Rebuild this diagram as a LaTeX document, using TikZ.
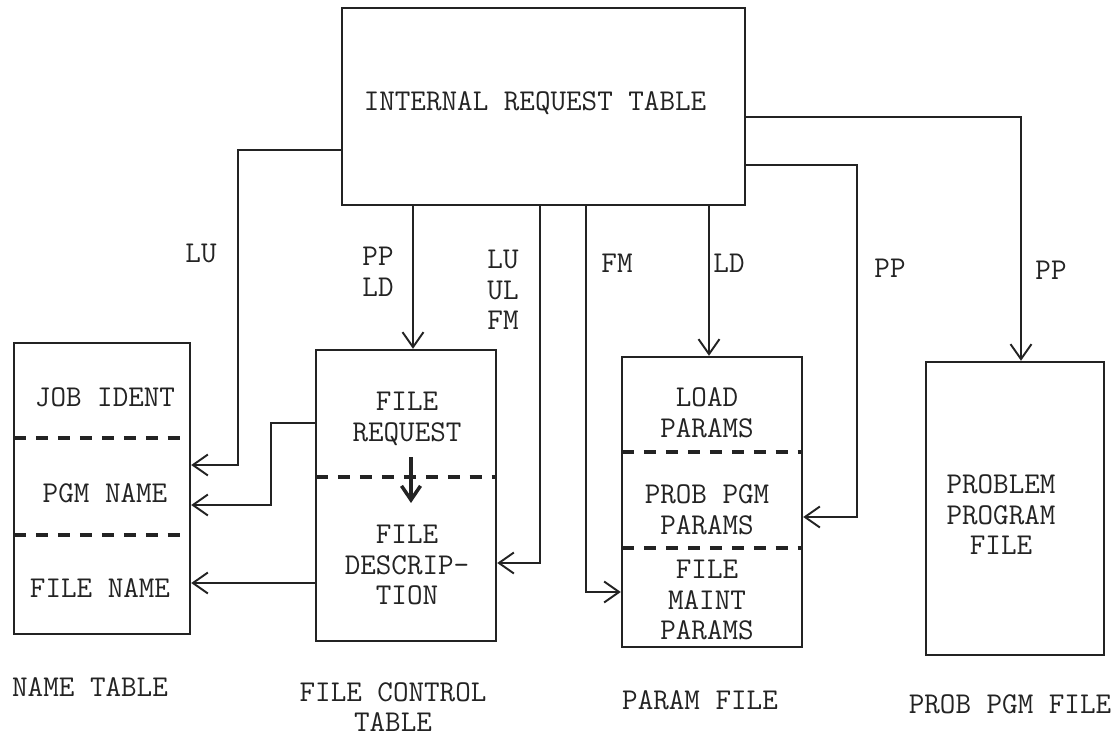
\documentclass[tikz,border=0pt]{standalone}
\usepackage{fontspec}
\definecolor{ink}{RGB}{35,35,35}
\usetikzlibrary{positioning, arrows.meta}

\begin{document}
\begin{tikzpicture}[x=0.02cm, y=-0.02cm,
    tablebox/.style={draw=ink, line width=1.4pt, minimum width=3.6cm,
      minimum height=5.82cm, inner sep=0pt},
    entry/.style={text=ink, font=\ttfamily\fontsize{17.2}{17.4}\selectfont,
      align=center, inner sep=0pt},
    divider/.style={draw=ink, line width=1.8pt, dash pattern=on 6.8pt off 5.7pt},
    arrow/.style={-{Straight Barb[length=0.3cm, width=0.42cm, line width=1.1pt]}, draw=ink, line width=0.8pt},
    flow/.style={-{Straight Barb[length=0.28cm, width=0.38cm, line width=2pt]}, draw=ink, line width=2pt},
  ]
    \useasboundingbox (0,0) rectangle (1119,736);

    \node[tablebox, minimum width=8.06cm, minimum height=3.94cm] (irt) at (543.5,106.5) {};
    \node[entry] (irttext) at (535,103) {INTERNAL REQUEST TABLE};

    \node[tablebox, minimum width=3.52cm] (nametbl) at (102,488.5) {};
    \node[tablebox] (fct) at (406,495.5) {};
    \node[tablebox, minimum height=5.8cm] (parfile) at (712,502) {};
    \node[tablebox, minimum width=3.56cm, minimum height=5.86cm] (ppf) at (1015,508.5) {};

    \draw[divider] (14,438) -- (190,438);
    \draw[divider] (14,535) -- (190,535);
    \draw[divider] (316,477) -- (496,477);
    \draw[divider] (622,452) -- (802,452);
    \draw[divider] (622,548) -- (802,548);

    \node[entry] (jobident) at (105,397) {JOB IDENT};
    \node[entry] (pgmname) at (105,493) {PGM NAME};
    \node[entry] (filename) at (100,588) {FILE NAME};
    \node[entry] (filereq) at (407,419) {FILE\\REQUEST};
    \node[entry] (filedesc) at (407,565) {FILE\\DESCRIP-\\TION};
    \node[entry] (loadpar) at (707,413) {LOAD\\PARAMS};
    \node[entry] (probpar) at (707,510) {PROB PGM\\PARAMS};
    \node[entry] (maintpar) at (707,600) {FILE\\MAINT\\PARAMS};
    \node[entry] (probfile) at (1001,515) {PROBLEM\\PROGRAM\\FILE};

    \node[entry, below=0.84cm of nametbl, xshift=-0.24cm] (namecap) {NAME TABLE};
    \node[entry, below=0.8cm of fct, xshift=-0.26cm] (fctcap) {FILE CONTROL\\TABLE};
    \node[entry, below=0.84cm of parfile, xshift=-0.24cm] (parcap) {PARAM FILE};
    \node[entry, below=0.76cm of ppf, xshift=-0.1cm] (ppfcap) {PROB PGM FILE};

    \node[entry] (lulbl) at (201,253) {LU};
    \node[entry] (ppldlbl) at (378,272) {PP\\LD};
    \node[entry] (luulfmlbl) at (503,290) {LU\\UL\\FM};
    \node[entry] (fmlbl) at (617,263) {FM};
    \node[entry] (ldlbl) at (729,263) {LD};
    \node[entry] (pplbl) at (890,268) {PP};
    \node[entry] (ppfilelbl) at (1051,270) {PP};

    \draw[arrow] (irt.west |- 0,150) -| (238,465) -- (nametbl.east |- 0,465);
    \draw[arrow] (fct.west |- 0,423) -| (271,505) -- (nametbl.east |- 0,505);
    \draw[arrow] (fct.west |- 0,583) -- (nametbl.east |- 0,583);
    \draw[arrow] (irt.south -| 413,0) -- (fct.north -| 413,0);
    \draw[arrow] (irt.south -| 540,0) |- (fct.east |- 0,563);
    \draw[arrow] (irt.south -| 586,0) |- (parfile.west |- 0,592);
    \draw[arrow] (irt.south -| 709,0) -- (parfile.north -| 709,0);
    \draw[arrow] (irt.east |- 0,165) -| (857,517) -- (parfile.east |- 0,517);
    \draw[arrow] (irt.east |- 0,117) -| (ppf.north -| 1021,0);
    \draw[flow] (411,457) -- (411,503);
  \end{tikzpicture}
\end{document}
